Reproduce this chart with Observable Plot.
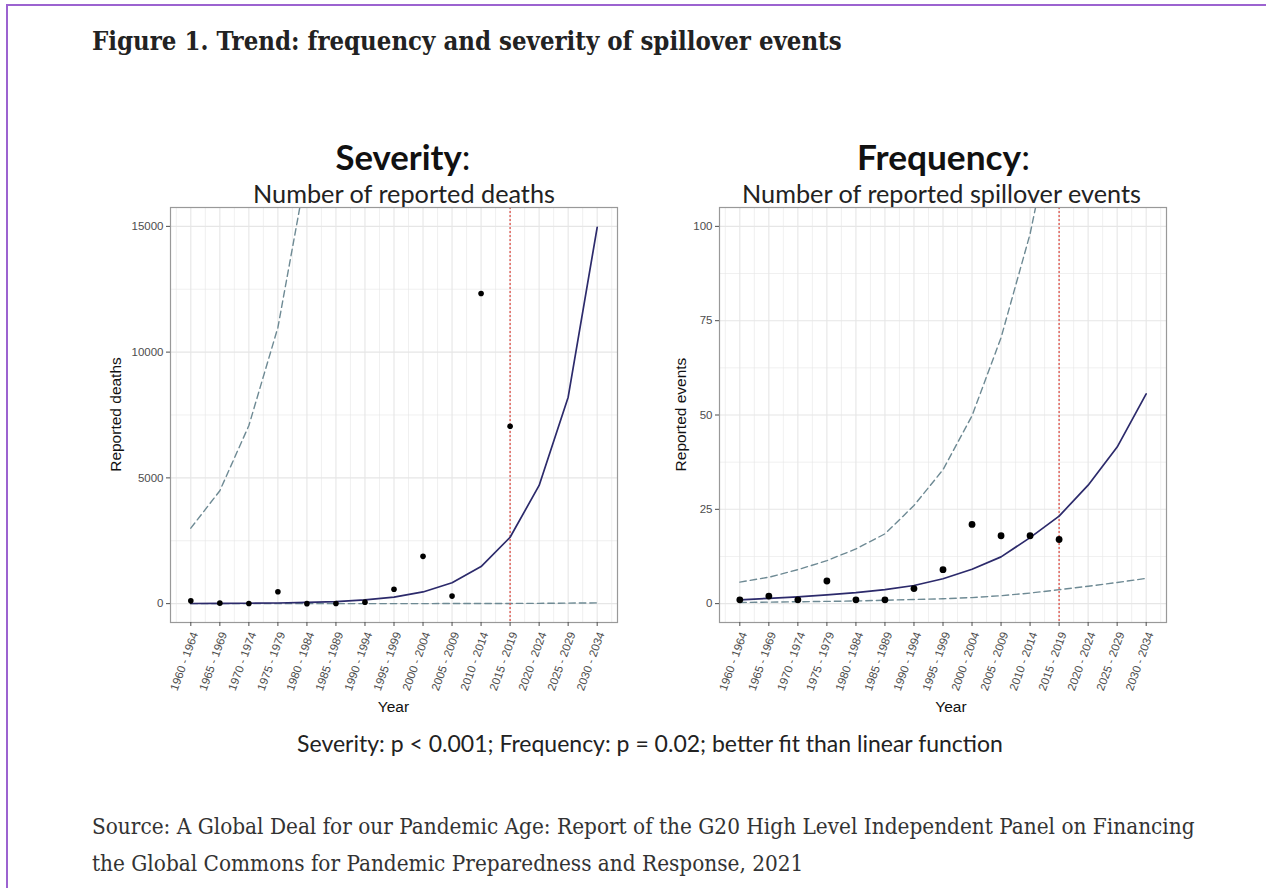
<!DOCTYPE html>
<html><head><meta charset="utf-8">
<script src="https://cdn.jsdelivr.net/npm/d3@7"></script>
<script src="https://cdn.jsdelivr.net/npm/@observablehq/plot@0.6"></script>
<style>
html{overflow:hidden;}
html,body{margin:0;padding:0;background:#fff;}
body{width:1266px;height:888px;position:relative;overflow:hidden;}
#borderTop{position:absolute;left:6px;top:4px;width:1260px;height:2px;background:#9c63d0;}
#borderLeft{position:absolute;left:6px;top:4px;width:2px;height:884px;background:#9c63d0;}
.panel{position:absolute;top:200px;}
#severity{left:100px;}
#frequency{left:650px;}
#overlay{position:absolute;left:0;top:0;z-index:2;pointer-events:none;}
</style></head><body>
<div id="borderTop"></div>
<div id="borderLeft"></div>
<div id="severity" class="panel"></div>
<div id="frequency" class="panel"></div>
<svg id="overlay" width="1266" height="888"></svg>
<script>
// ---- data ----
const periodStarts = [1960,1965,1970,1975,1980,1985,1990,1995,2000,2005,2010,2015,2020,2025,2030];
const periodLabels = ["1960 - 1964","1965 - 1969","1970 - 1974","1975 - 1979","1980 - 1984","1985 - 1989","1990 - 1994","1995 - 1999","2000 - 2004","2005 - 2009","2010 - 2014","2015 - 2019","2020 - 2024","2025 - 2029","2030 - 2034"];
const minorStarts = [1957.5,1962.5,1967.5,1972.5,1977.5,1982.5,1987.5,1992.5,1997.5,2002.5,2007.5,2012.5,2017.5,2022.5,2027.5,2032.5];
const projectionStart = 2015;

// Severity: number of reported deaths
const deathsObserved = [110, 20, 5, 470, 0, 5, 60, 570, 1880, 300, 12330, 7050];
const deathsFitted   = [5, 8, 15, 26, 47, 83, 150, 262, 465, 830, 1475, 2640, 4700, 8210, 14960];
const deathsUpper    = [3000, 4490, 7080, 10980, 17300];
const deathsLower    = [0, 0, 0, 0, 0, 0, 1, 1, 2, 3, 5, 8, 12, 20, 30];
const deathsTicks    = [0, 5000, 10000, 15000];
const deathsMinor    = [2500, 7500, 12500];

// Frequency: number of reported spillover events
const eventsObserved = [1, 2, 1, 6, 1, 1, 4, 9, 21, 18, 18, 17];
const eventsFitted   = [1.0, 1.4, 1.8, 2.3, 2.9, 3.7, 4.8, 6.6, 9.1, 12.4, 17.5, 23.2, 31.4, 41.5, 55.6];
const eventsUpper    = [5.7, 7.0, 9.0, 11.4, 14.5, 18.5, 26.0, 35.5, 49.8, 70.5, 98, 135];
const eventsLower    = [0.3, 0.4, 0.5, 0.6, 0.7, 0.9, 1.1, 1.3, 1.6, 2.1, 2.8, 3.7, 4.6, 5.6, 6.7];
const eventsTicks    = [0, 25, 50, 75, 100];
const eventsMinor    = [12.5, 37.5, 62.5, 87.5];

// ---- chart ----
const rows = (vals) => vals.map((v, i) => ({start: periodStarts[i], value: v}));
const labelOf = (d) => periodLabels[periodStarts.indexOf(d)] ?? "";
const gridColor = "#e6e6e6";
const ciColor = "#6e8a94";

function panel({observed, fitted, upper, lower, yDomain, yTicks, yMinor, marginLeft, marginRight, r}) {
  return Plot.plot({
    width: 530, height: 520,
    marginLeft, marginRight, marginTop: 7, marginBottom: 98,
    style: {fontFamily: "'Liberation Sans', Arial, sans-serif", background: "transparent", overflow: "visible"},
    x: {type: "linear", domain: [1956.5, 2033.5]},
    y: {domain: yDomain},
    marks: [
      Plot.gridX(minorStarts, {stroke: gridColor, strokeOpacity: 1, strokeWidth: 0.6}),
      Plot.gridX(periodStarts, {stroke: gridColor, strokeOpacity: 1, strokeWidth: 1.1}),
      Plot.gridY(yMinor, {stroke: gridColor, strokeOpacity: 1, strokeWidth: 0.6}),
      Plot.gridY(yTicks, {stroke: gridColor, strokeOpacity: 1, strokeWidth: 1.1}),
      Plot.line(rows(lower), {x: "start", y: "value", stroke: ciColor, strokeWidth: 1.4, strokeDasharray: "6.5,4", clip: true}),
      Plot.line(rows(upper), {x: "start", y: "value", stroke: ciColor, strokeWidth: 1.4, strokeDasharray: "6.5,4", clip: true}),
      Plot.ruleX([projectionStart], {stroke: "#e0524a", strokeWidth: 1.3, strokeDasharray: "2,2"}),
      Plot.line(rows(fitted), {x: "start", y: "value", stroke: "#2c2a6b", strokeWidth: 1.7}),
      Plot.dot(rows(observed), {x: "start", y: "value", r, fill: "#000", stroke: "none"}),
      Plot.frame({stroke: "#999", strokeWidth: 1.2}),
      Plot.axisY(yTicks, {tickSize: 4, tickPadding: 3, fontSize: 11.5, color: "#4d4d4d", tickFormat: (d) => String(d), label: null}),
      Plot.axisX(periodStarts, {tickSize: 4, tickFormat: () => "", color: "#4d4d4d", label: null}),
      Plot.axisX(periodStarts, {tickSize: 0, tickPadding: 10, tickRotate: -70, dx: 4, fontSize: 11.5, fill: "#4d4d4d", tickFormat: labelOf, label: null})
    ]
  });
}

document.getElementById("severity").append(panel({
  observed: deathsObserved, fitted: deathsFitted, upper: deathsUpper, lower: deathsLower,
  yDomain: [-750, 15750], yTicks: deathsTicks, yMinor: deathsMinor,
  marginLeft: 70, marginRight: 13, r: 2.8
}));
document.getElementById("frequency").append(panel({
  observed: eventsObserved, fitted: eventsFitted, upper: eventsUpper, lower: eventsLower,
  yDomain: [-5, 105], yTicks: eventsTicks, yMinor: eventsMinor,
  marginLeft: 69, marginRight: 14, r: 3.4
}));

// ---- text ----
const NS = "http://www.w3.org/2000/svg";
const overlay = document.getElementById("overlay");
function addText({x, y, parts, size, family, anchor = "start", fill = "#222", fit, rotate}) {
  const t = document.createElementNS(NS, "text");
  t.setAttribute("x", x); t.setAttribute("y", y);
  t.setAttribute("text-anchor", anchor);
  t.setAttribute("font-family", family);
  t.setAttribute("font-size", size);
  t.setAttribute("fill", fill);
  if (rotate) t.setAttribute("transform", `rotate(${rotate} ${x} ${y})`);
  for (const [str, weight] of parts) {
    const s = document.createElementNS(NS, "tspan");
    s.textContent = str;
    if (weight) s.setAttribute("font-weight", weight);
    t.appendChild(s);
  }
  overlay.appendChild(t);
  if (fit) {
    const len = t.getComputedTextLength();
    if (len > 0) t.setAttribute("font-size", (size * fit / len).toFixed(2));
  }
  return t;
}
const serif = "'DejaVu Serif Condensed', 'DejaVu Serif', serif";
const sans = "Lato, 'Noto Sans', sans-serif";
const axisFont = "'Liberation Sans', Arial, sans-serif";

addText({x: 92, y: 50, parts: [["Figure 1. Trend: frequency and severity of spillover events", "bold"]], size: 22, family: serif, fill: "#222", fit: 750});

addText({x: 403, y: 170, anchor: "middle", parts: [["Severity", "bold"], [":", null]], size: 28, family: sans, fill: "#111", fit: 135});
addText({x: 404, y: 203, anchor: "middle", parts: [["Number of reported deaths", null]], size: 21, family: sans, fill: "#222", fit: 302});
addText({x: 943.5, y: 170, anchor: "middle", parts: [["Frequency", "bold"], [":", null]], size: 28, family: sans, fill: "#111", fit: 173});
addText({x: 941.5, y: 203, anchor: "middle", parts: [["Number of reported spillover events", null]], size: 21, family: sans, fill: "#222", fit: 399});

addText({x: 121, y: 414.5, anchor: "middle", rotate: -90, parts: [["Reported deaths", null]], size: 15.5, family: axisFont, fill: "#111"});
addText({x: 686, y: 414.5, anchor: "middle", rotate: -90, parts: [["Reported events", null]], size: 15.5, family: axisFont, fill: "#111"});
addText({x: 393.5, y: 712, anchor: "middle", parts: [["Year", null]], size: 15.5, family: axisFont, fill: "#111"});
addText({x: 951, y: 712, anchor: "middle", parts: [["Year", null]], size: 15.5, family: axisFont, fill: "#111"});

addText({x: 650, y: 752, anchor: "middle", parts: [["Severity: p < 0.001; Frequency: p = 0.02; better fit than linear function", null]], size: 19, family: sans, fill: "#222", fit: 706});

const src1 = addText({x: 92, y: 834, parts: [["Source: A Global Deal for our Pandemic Age: Report of the G20 High Level Independent Panel on Financing", null]], size: 18, family: serif, fill: "#333", fit: 1103});
addText({x: 92, y: 871, parts: [["the Global Commons for Pandemic Preparedness and Response, 2021", null]], size: parseFloat(src1.getAttribute("font-size")), family: serif, fill: "#333"});
</script>
</body></html>
